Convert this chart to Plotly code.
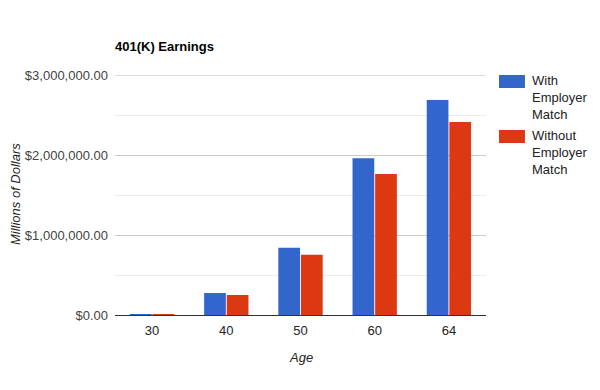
import plotly.graph_objects as go

ages = ["30", "40", "50", "60", "64"]
with_match = [3500, 275000, 840000, 1960000, 2690000]
without_match = [3000, 250000, 755000, 1765000, 2415000]
series_names = ["With Employer Match", "Without Employer Match"]
legend_labels = ["With<br>Employer<br>Match", "Without<br>Employer<br>Match"]
colors = ["#3366cc", "#dc3912"]
y_ticks = [0, 1000000, 2000000, 3000000]
y_tick_labels = ["$0.00", "$1,000,000.00", "$2,000,000.00", "$3,000,000.00"]
y_max = 3000000

FONT = "Arial, Liberation Sans, sans-serif"

# page renders with an 8px body margin, so the figure is sized/offset to compensate
W, H = 592, 382

fig = go.Figure()
for name, vals, col in zip(series_names, [with_match, without_match], colors):
    fig.add_trace(go.Bar(x=ages, y=vals, name=name, marker=dict(color=col, line=dict(width=0)),
                         showlegend=False))

# top gridline (plotly may drop a gridline sitting exactly on the plot edge)
fig.add_shape(type="line", xref="paper", yref="y", x0=0, x1=1, y0=y_max, y1=y_max,
              line=dict(color="#cccccc", width=1), layer="below")

# manual legend (Google Charts style swatches)
sw_y = [(1.0, 0.9458), (0.7708, 0.7167)]
txt_y = [0.905, 0.676]
for (y1, y0), ty, col, lab in zip(sw_y, txt_y, colors, legend_labels):
    fig.add_shape(type="rect", xref="paper", yref="paper", x0=1.035, x1=1.105, y0=y0, y1=y1,
                  fillcolor=col, line=dict(width=0))
    fig.add_annotation(xref="paper", yref="paper", x=1.119, y=ty, xanchor="left", yanchor="middle",
                       text=lab, showarrow=False, align="left",
                       font=dict(family=FONT, size=13, color="#222222"))

fig.add_annotation(xref="paper", yref="paper", x=-0.2695, y=0.504, text="<i>Millions of Dollars</i>",
                   textangle=-90, showarrow=False, xanchor="center", yanchor="middle",
                   font=dict(family=FONT, size=13, color="#222222"))
fig.add_annotation(xref="paper", yref="paper", x=0.5, y=-0.175, text="<i>Age</i>",
                   showarrow=False, xanchor="center", yanchor="middle",
                   font=dict(family=FONT, size=13, color="#222222"))

fig.update_layout(
    width=W, height=H,
    margin=dict(l=107, r=114, t=67, b=75, autoexpand=False),
    paper_bgcolor="white", plot_bgcolor="white",
    font=dict(family=FONT, size=13, color="#444444"),
    title=dict(text="<b>401(K) Earnings</b>", x=107/W, xanchor="left", y=1-38/H, yanchor="middle",
               font=dict(family=FONT, size=13, color="#000000")),
    barmode="group", bargap=0.39, bargroupgap=0.04,
    showlegend=False,
    xaxis=dict(type="category", showgrid=False, showline=False, ticks="", ticklabelstandoff=6,
               tickfont=dict(color="#222222")),
    yaxis=dict(range=[0, y_max + 2000], tickvals=y_ticks, ticktext=y_tick_labels,
               showgrid=True, gridcolor="#cccccc", gridwidth=1,
               minor=dict(dtick=500000, showgrid=True, gridcolor="#ebebeb", gridwidth=1),
               zeroline=True, zerolinecolor="#333333", zerolinewidth=1,
               showline=False, ticks="", ticklabelstandoff=6,
               tickfont=dict(color="#444444")),
)

fig.write_html("out.html")
